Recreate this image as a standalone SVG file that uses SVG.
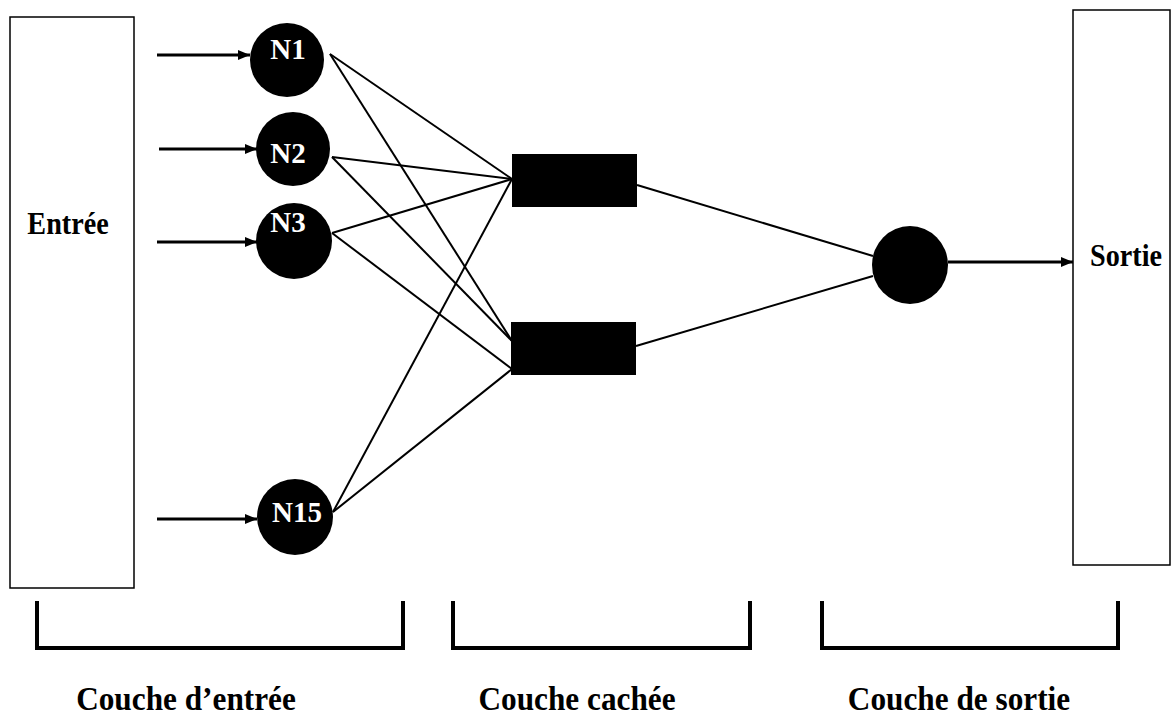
<svg xmlns="http://www.w3.org/2000/svg" width="1171" height="719" viewBox="0 0 1171 719">
  <defs>
    <marker id="arr" viewBox="0 0 12 10" refX="12" refY="5" markerWidth="12" markerHeight="10" markerUnits="userSpaceOnUse" orient="auto">
      <path d="M0,0 L12,5 L0,10 Z" fill="#000"/>
    </marker>
    <style>
      .box { fill: #fff; stroke: #000; stroke-width: 1.5; }
      .neuron { fill: #000; }
      .nlabel { font-family: "Liberation Serif", "Times New Roman", serif; font-weight: bold; font-size: 29px; fill: #fff; text-anchor: middle; }
      .blabel { font-family: "Liberation Serif", "Times New Roman", serif; font-weight: bold; font-size: 32px; fill: #000; text-anchor: middle; }
      .llabel { font-family: "Liberation Serif", "Times New Roman", serif; font-weight: bold; font-size: 34px; fill: #000; text-anchor: middle; }
      .in { stroke: #000; stroke-width: 3; fill: none; }
      .w { stroke: #000; stroke-width: 2; fill: none; }
      .bracket { stroke: #000; stroke-width: 4; fill: none; }
    </style>
  </defs>

  <g id="entree">
    <rect class="box" x="10" y="17" width="124" height="571"/>
    <text class="blabel" transform="translate(68,234) scale(0.88,1)">Entrée</text>
  </g>

  <g id="sortie">
    <rect class="box" x="1073" y="10" width="97" height="555"/>
    <text class="blabel" transform="translate(1126,266) scale(0.88,1)">Sortie</text>
  </g>

  <g id="connectors">
    <line class="in" x1="157" y1="55" x2="250" y2="55" marker-end="url(#arr)"/>
    <line class="in" x1="159" y1="149" x2="257" y2="149" marker-end="url(#arr)"/>
    <line class="in" x1="157" y1="242" x2="257" y2="242" marker-end="url(#arr)"/>
    <line class="in" x1="157" y1="519" x2="257" y2="519" marker-end="url(#arr)"/>

    <line class="w" x1="330" y1="54" x2="512" y2="179"/>
    <line class="w" x1="330" y1="54" x2="512" y2="341"/>
    <line class="w" x1="332" y1="157" x2="512" y2="179"/>
    <line class="w" x1="332" y1="157" x2="512" y2="341"/>
    <line class="w" x1="332" y1="233" x2="512" y2="179"/>
    <line class="w" x1="332" y1="233" x2="512" y2="369"/>
    <line class="w" x1="333" y1="512" x2="512" y2="179"/>
    <line class="w" x1="333" y1="512" x2="512" y2="369"/>

    <line class="w" x1="637" y1="185" x2="873" y2="256"/>
    <line class="w" x1="636" y1="346" x2="873" y2="276"/>

    <line class="in" x1="948" y1="262" x2="1073" y2="262" marker-end="url(#arr)"/>
  </g>

  <g id="N1">
    <circle class="neuron" cx="287" cy="60" r="37"/>
    <text class="nlabel" x="288" y="59">N1</text>
  </g>
  <g id="N2">
    <circle class="neuron" cx="293" cy="149" r="37"/>
    <text class="nlabel" x="288" y="163">N2</text>
  </g>
  <g id="N3">
    <circle class="neuron" cx="294" cy="241" r="38"/>
    <text class="nlabel" x="288" y="232">N3</text>
  </g>
  <g id="N15">
    <circle class="neuron" cx="295" cy="517" r="38"/>
    <text class="nlabel" x="297" y="522">N15</text>
  </g>

  <g id="H1">
    <rect class="neuron" x="512" y="154" width="125" height="53"/>
  </g>
  <g id="H2">
    <rect class="neuron" x="511" y="322" width="125" height="53"/>
  </g>

  <g id="out">
    <ellipse class="neuron" cx="910" cy="265" rx="38" ry="39"/>
  </g>

  <g id="layers">
    <path class="bracket" d="M37,601 V648 H403 V601"/>
    <path class="bracket" d="M453,601 V648 H750 V601"/>
    <path class="bracket" d="M822,601 V648 H1118 V601"/>
    <text class="llabel" transform="translate(186,710) scale(0.92,1)">Couche d’entrée</text>
    <text class="llabel" transform="translate(577,710) scale(0.92,1)">Couche cachée</text>
    <text class="llabel" transform="translate(959,710) scale(0.92,1)">Couche de sortie</text>
  </g>
</svg>
